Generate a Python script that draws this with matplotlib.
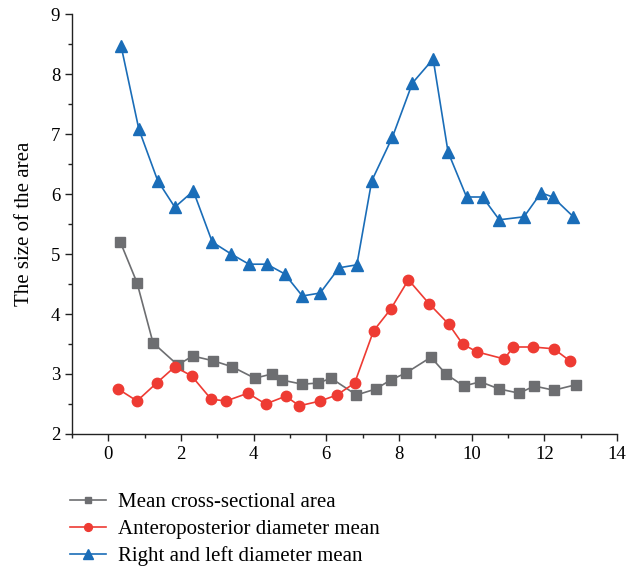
import matplotlib.pyplot as plt
from matplotlib.ticker import MultipleLocator

plt.rcParams['font.family'] = ['Liberation Serif', 'DejaVu Serif']

# Mean cross-sectional area
area_x = [0.33, 0.79, 1.23, 1.91, 2.32, 2.89, 3.41, 4.03, 4.5, 4.77, 5.34, 5.78, 6.13,
          6.83, 7.36, 7.77, 8.2, 8.88, 9.29, 9.78, 10.24, 10.76, 11.31, 11.72, 12.26, 12.86]
area_y = [5.2, 4.52, 3.52, 3.15, 3.3, 3.22, 3.12, 2.93, 3.0, 2.9, 2.83, 2.85, 2.93,
          2.65, 2.75, 2.9, 3.02, 3.28, 3.0, 2.8, 2.87, 2.75, 2.68, 2.8, 2.73, 2.82]

# Anteroposterior diameter mean
ap_x = [0.27, 0.79, 1.33, 1.83, 2.29, 2.83, 3.24, 3.84, 4.33, 4.88, 5.26, 5.83, 6.29,
        6.78, 7.3, 7.77, 8.26, 8.83, 9.37, 9.75, 10.14, 10.9, 11.14, 11.69, 12.26, 12.7]
ap_y = [2.75, 2.55, 2.85, 3.12, 2.97, 2.58, 2.55, 2.68, 2.5, 2.63, 2.47, 2.55, 2.65,
        2.85, 3.72, 4.08, 4.57, 4.17, 3.83, 3.5, 3.37, 3.25, 3.45, 3.45, 3.42, 3.22]

# Right and left diameter mean
rl_x = [0.35, 0.84, 1.36, 1.83, 2.34, 2.86, 3.38, 3.87, 4.36, 4.85, 5.34, 5.83, 6.35,
        6.84, 7.25, 7.82, 8.37, 8.94, 9.35, 9.86, 10.3, 10.76, 11.44, 11.91, 12.23, 12.8]
rl_y = [8.47, 7.08, 6.22, 5.78, 6.05, 5.2, 5.0, 4.83, 4.83, 4.67, 4.3, 4.35, 4.77,
        4.82, 6.22, 6.95, 7.85, 8.25, 6.7, 5.95, 5.95, 5.57, 5.62, 6.02, 5.95, 5.62]

labels = ['Mean cross-sectional area', 'Anteroposterior diameter mean',
          'Right and left diameter mean']

fig = plt.figure(figsize=(6.27, 5.67), dpi=100)
ax = fig.add_axes([72 / 627, 133 / 567, 545 / 627, 420 / 567])

ax.plot(area_x, area_y, color='#6d6e71', lw=1.2, marker='s', ms=6.5,
        label=labels[0])
ax.plot(ap_x, ap_y, color='#ee3b33', lw=1.2, marker='o', ms=7.5,
        label=labels[1])
ax.plot(rl_x, rl_y, color='#1a6db8', lw=1.2, marker='^', ms=9,
        label=labels[2])

ax.set_xlim(-1, 14)
ax.set_ylim(2, 9)
ax.xaxis.set_major_locator(MultipleLocator(2))
ax.xaxis.set_minor_locator(MultipleLocator(1))
ax.yaxis.set_major_locator(MultipleLocator(1))
ax.yaxis.set_minor_locator(MultipleLocator(0.5))
ax.spines['top'].set_visible(False)
ax.spines['right'].set_visible(False)
for s in ['left', 'bottom']:
    ax.spines[s].set_linewidth(1.0)
    ax.spines[s].set_color('#222222')
ax.tick_params(which='major', length=5, width=1, labelsize=13.5, color='#222222')
ax.tick_params(which='minor', length=3, width=1, color='#222222')
ax.set_ylabel('The size of the area', fontsize=15, labelpad=12)

fig.legend(loc='upper left', bbox_to_anchor=(62 / 627, 83 / 567), frameon=False,
           fontsize=15, handlelength=1.7, labelspacing=0.36, handletextpad=0.6,
           markerscale=0.75, borderaxespad=0)

fig.savefig('out.png', dpi=100)
